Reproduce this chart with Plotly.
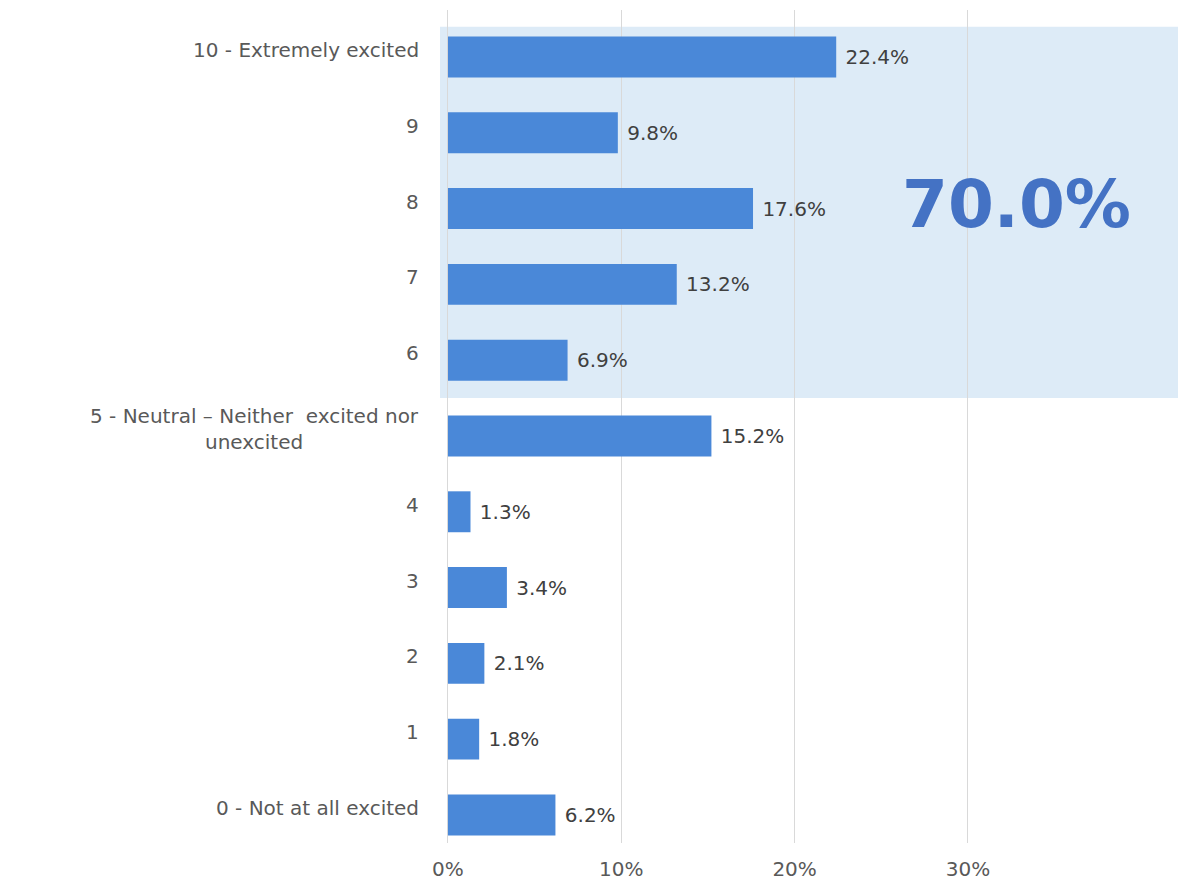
import plotly.graph_objects as go

# Survey response scale (top to bottom) and share of respondents (%)
categories = [
    "10 - Extremely excited",
    "9",
    "8",
    "7",
    "6",
    "5 - Neutral \u2013 Neither  excited nor<br>unexcited",
    "4",
    "3",
    "2",
    "1",
    "0 - Not at all excited",
]
shares = [22.4, 9.8, 17.6, 13.2, 6.9, 15.2, 1.3, 3.4, 2.1, 1.8, 6.2]

x_tick_values = [0, 10, 20, 30]
x_tick_labels = ["0%", "10%", "20%", "30%"]

# Combined share of scores 6-10
top_box_label = "70.0%"
top_box_first, top_box_last = "10 - Extremely excited", "6"

FONT = "DejaVu Sans"
TEXT_GREY = "#595959"
BAR_BLUE = "#4A88D8"
BAND_BLUE = "#DDEBF7"
ACCENT_BLUE = "#4472C4"

order_bottom_up = categories[::-1]

fig = go.Figure()
fig.add_trace(
    go.Bar(
        x=shares,
        y=categories,
        orientation="h",
        marker=dict(color=BAR_BLUE, line=dict(width=0)),
        width=0.54,
        texttemplate="\u00a0%{x:.1f}%",
        textposition="outside",
        cliponaxis=False,
        textfont=dict(family=FONT, size=20, color="#404040"),
        hoverinfo="skip",
    )
)

# Light band behind the 6-10 group
idx_top = order_bottom_up.index(top_box_first)
idx_bottom = order_bottom_up.index(top_box_last)
fig.add_shape(
    type="rect",
    xref="paper", x0=0, x1=1,
    yref="y", y0=idx_bottom - 0.5, y1=idx_top + 0.4,
    fillcolor=BAND_BLUE, line=dict(width=0), layer="below",
)

fig.add_annotation(
    x=32.8, y=idx_top - 1.95, xref="x", yref="y",
    text=f"<b>{top_box_label}</b>", showarrow=False,
    font=dict(family=FONT, size=66, color=ACCENT_BLUE),
)

# Category labels, right-aligned against the axis with centred wrapped lines
for cat in categories:
    fig.add_annotation(
        x=0, y=cat, xref="paper", yref="y",
        text=cat, showarrow=False,
        xanchor="right", align="center", xshift=-19, yshift=7,
        font=dict(family=FONT, size=20, color=TEXT_GREY),
    )

fig.update_layout(
    width=1178,
    height=890,
    margin=dict(l=440, r=0, t=10, b=47),
    paper_bgcolor="white",
    plot_bgcolor="rgba(0,0,0,0)",
    showlegend=False,
    bargap=0.46,
    font=dict(family=FONT, color=TEXT_GREY),
    xaxis=dict(
        range=[-0.46, 42.12],
        tickvals=x_tick_values,
        ticktext=x_tick_labels,
        tickfont=dict(family=FONT, size=20, color=TEXT_GREY),
        showgrid=True,
        gridcolor="#D9D9D9",
        gridwidth=1,
        zeroline=False,
        showline=False,
        ticks="",
        ticklabelstandoff=12,
    ),
    yaxis=dict(
        type="category",
        categoryorder="array",
        categoryarray=order_bottom_up,
        range=[-0.37, 10.62],
        showticklabels=False,
        showgrid=False,
        zeroline=False,
        showline=False,
        ticks="",
    ),
)

fig.write_html("out.html")
